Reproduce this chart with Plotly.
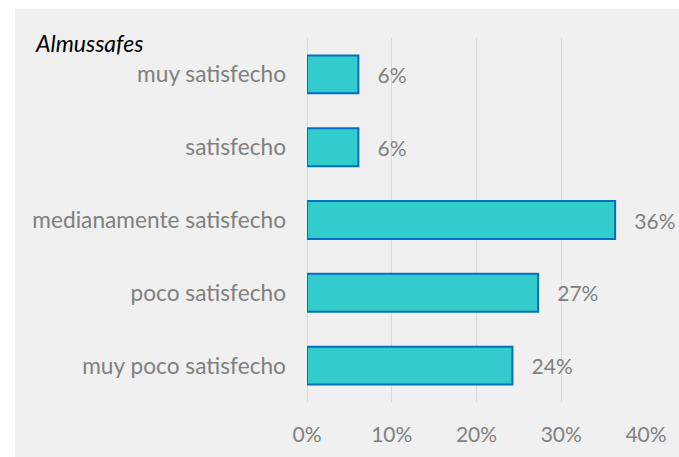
import plotly.graph_objects as go

# Survey results: share of respondents per satisfaction level
categories = [
    "muy satisfecho",
    "satisfecho",
    "medianamente satisfecho",
    "poco satisfecho",
    "muy poco satisfecho",
]
shares = [0.0606, 0.0606, 0.3636, 0.2727, 0.2424]
x_ticks = [0, 0.1, 0.2, 0.3, 0.4]
x_tick_labels = ["0%", "10%", "20%", "30%", "40%"]
title_text = "Almussafes"

W, H = 679, 457
L, R, T, B = 307, 33, 38, 55
plot_w = W - L - R
plot_h = H - T - B


def px_to_paper_x(px):
    return (px - L) / plot_w


def px_to_paper_y(py):
    return (H - B - py) / plot_h


label_color = "#808080"
font_family = "Lato, 'Open Sans', sans-serif"

fig = go.Figure(
    go.Bar(
        x=shares,
        y=categories,
        orientation="h",
        marker=dict(color="#33CCCC", line=dict(color="#0070C0", width=2)),
        texttemplate="\u00a0\u00a0\u00a0%{x:.0%}",
        textposition="outside",
        textfont=dict(color=label_color, size=21, family=font_family),
        cliponaxis=False,
        hoverinfo="skip",
    )
)

# light grey chart area behind the plot
fig.add_shape(
    type="rect",
    xref="paper",
    yref="paper",
    x0=px_to_paper_x(15),
    x1=px_to_paper_x(W + 2),
    y0=px_to_paper_y(H + 2),
    y1=px_to_paper_y(9),
    fillcolor="#f0f0f0",
    line=dict(width=0),
    layer="below",
)

fig.add_annotation(
    text=title_text,
    xref="paper",
    yref="paper",
    x=px_to_paper_x(33),
    y=px_to_paper_y(43),
    xanchor="left",
    yanchor="middle",
    showarrow=False,
    font=dict(color="#000000", size=23, family=font_family, style="italic"),
)

fig.update_layout(
    width=W,
    height=H,
    margin=dict(l=L, r=R, t=T, b=B, pad=0),
    paper_bgcolor="white",
    plot_bgcolor="rgba(0,0,0,0)",
    bargap=0.48,
    showlegend=False,
    font=dict(family=font_family, color=label_color, size=21),
)

fig.update_xaxes(
    range=[0, 0.4],
    tickvals=x_ticks,
    ticktext=x_tick_labels,
    showgrid=True,
    gridcolor="#d9d9d9",
    gridwidth=1.3,
    zeroline=True,
    zerolinecolor="#d9d9d9",
    zerolinewidth=1.3,
    showline=False,
    ticks="",
    ticklabelstandoff=18,
    tickfont=dict(size=21, color=label_color),
    fixedrange=True,
)

fig.update_yaxes(
    categoryorder="array",
    categoryarray=categories,
    autorange="reversed",
    showgrid=False,
    showline=False,
    zeroline=False,
    ticks="",
    ticklabelstandoff=20,
    tickfont=dict(size=22.7, color=label_color),
    fixedrange=True,
)

fig.write_html("out.html", config=dict(displayModeBar=False))
